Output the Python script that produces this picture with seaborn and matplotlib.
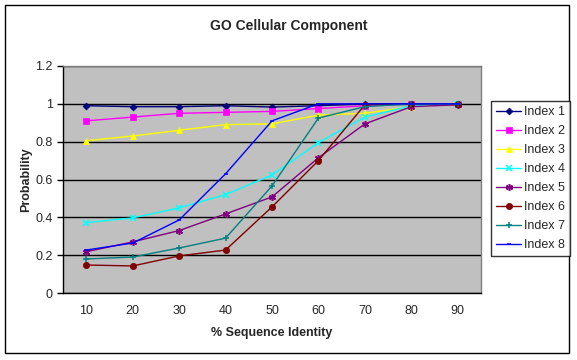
import matplotlib
matplotlib.use('Agg')
import matplotlib.pyplot as plt
import seaborn as sns
import pandas as pd
from matplotlib.patches import Rectangle

identity = [10, 20, 30, 40, 50, 60, 70, 80, 90]
series_names = ['Index 1', 'Index 2', 'Index 3', 'Index 4',
                'Index 5', 'Index 6', 'Index 7', 'Index 8']
index1 = [0.99, 0.985, 0.985, 0.99, 0.983, 0.99, 1.0, 1.0, 1.0]
index2 = [0.91, 0.93, 0.95, 0.955, 0.96, 0.975, 0.99, 1.0, 1.0]
index3 = [0.805, 0.83, 0.86, 0.89, 0.894, 0.94, 0.95, 0.985, 1.0]
index4 = [0.372, 0.397, 0.45, 0.52, 0.624, 0.795, 0.93, 0.99, 1.0]
index5 = [0.218, 0.27, 0.33, 0.418, 0.508, 0.715, 0.894, 0.985, 0.995]
index6 = [0.148, 0.143, 0.196, 0.227, 0.455, 0.70, 0.995, 1.0, 1.0]
index7 = [0.18, 0.19, 0.238, 0.29, 0.566, 0.925, 0.985, 1.0, 1.0]
index8 = [0.227, 0.264, 0.386, 0.63, 0.91, 1.0, 1.0, 1.0, 1.0]
values = [index1, index2, index3, index4, index5, index6, index7, index8]

colors = ['#000080', '#FF00FF', '#FFFF00', '#00FFFF',
          '#800080', '#800000', '#008080', '#0000FF']
markers = ['D', 's', '^', 'x', (6, 2, 0), 'o', '+', '_']
msizes = [3.5, 4.5, 5, 4, 5, 4.5, 5, 3]

rows = []
for name, vals in zip(series_names, values):
    for x, v in zip(identity, vals):
        rows.append({'series': name, 'identity': x, 'prob': v})
df = pd.DataFrame(rows)

sns.set_style('white')
plt.rcParams['font.family'] = ['Liberation Sans', 'DejaVu Sans']

fig = plt.figure(figsize=(5.77, 3.6), dpi=100)
ax = fig.add_axes([63 / 577, 67 / 360, 418 / 577, 227 / 360])
ax.set_facecolor('#C0C0C0')

for name, c, m, ms in zip(series_names, colors, markers, msizes):
    sub = df[df['series'] == name]
    thin = m in ('x', '+', '_') or isinstance(m, tuple)
    sns.lineplot(data=sub, x='identity', y='prob', ax=ax, color=c,
                 marker=m, markersize=ms, markeredgecolor=c,
                 markerfacecolor=c, markeredgewidth=1.1 if thin else 0.5,
                 linewidth=1.0, label=name, legend=False)

ax.set_xlim(5, 95)
ax.set_ylim(0, 1.2)
ax.set_xticks(identity)
ax.set_xticks([5 + 10 * i for i in range(10)], minor=True)
ax.set_xticklabels([str(v) for v in identity])
ax.set_yticks([0, 0.2, 0.4, 0.6, 0.8, 1.0, 1.2])
ax.set_yticklabels(['0', '0.2', '0.4', '0.6', '0.8', '1', '1.2'])
ax.tick_params(axis='x', which='major', length=0, labelsize=9, pad=9)
ax.tick_params(axis='x', which='minor', length=4, width=1, direction='out', color='black')
ax.tick_params(axis='y', length=4, width=1, direction='out', color='black', labelsize=9, left=True)
ax.yaxis.grid(True, color='black', linewidth=1)
ax.xaxis.grid(False)
ax.set_axisbelow(True)
for s in ['left', 'bottom']:
    ax.spines[s].set_color('black')
    ax.spines[s].set_linewidth(1)
for s in ['top', 'right']:
    ax.spines[s].set_color('#808080')
    ax.spines[s].set_linewidth(1)

ax.set_xlabel('% Sequence Identity', fontsize=9, fontweight='bold', labelpad=7)
ax.set_ylabel('Probability', fontsize=9, fontweight='bold', labelpad=2)
fig.text(0.5, 1 - 26 / 360, 'GO Cellular Component', ha='center', va='center',
         fontsize=10, fontweight='bold')

handles, labels = ax.get_legend_handles_labels()
leg = fig.legend(handles, labels, loc='upper left',
                 bbox_to_anchor=(491 / 577, 1 - 101 / 360), fontsize=9,
                 frameon=True, fancybox=False, edgecolor='black',
                 handlelength=2.0, labelspacing=0.56, borderpad=0.4,
                 handletextpad=0.2, borderaxespad=0)
leg.get_frame().set_linewidth(1)
leg.get_frame().set_facecolor('white')

fig.patches.append(Rectangle((5 / 577, 7 / 360), 564 / 577, 348 / 360,
                             transform=fig.transFigure, fill=False,
                             edgecolor='black', linewidth=1))

fig.savefig('out.png', dpi=100, facecolor='white')
